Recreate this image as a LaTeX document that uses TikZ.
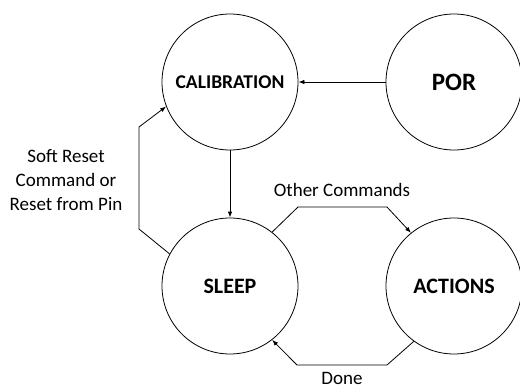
\documentclass[tikz,border=0pt]{standalone}
\usepackage{fontspec}
\setmainfont{Carlito}
\usetikzlibrary{arrows.meta}

\begin{document}
\begin{tikzpicture}[x=1pt, y=-1pt,
  state/.style = {shape=circle, draw, line width=0.8pt,
    minimum size=136pt, inner sep=0pt, font=\bfseries},
  arr/.style = {draw, line width=0.8pt, -{Latex[length=6pt,width=4.5pt]}},
  txt/.style = {align=center, font=\fontsize{19}{24}\selectfont}]
  \useasboundingbox (0,0) rectangle (520,389);
  % states
  \node[state, font=\bfseries\fontsize{19.5}{23}\selectfont] (cal) at (230,82) {CALIBRATION};
  \node[state, font=\bfseries\fontsize{25}{30}\selectfont] (por) at (454,82) {POR};
  \node[state, font=\bfseries\fontsize{22}{26}\selectfont] (sleep) at (230,286) {SLEEP};
  \node[state, font=\bfseries\fontsize{22}{26}\selectfont] (actions) at (454,286) {ACTIONS};
  % transitions
  \draw[arr] (por) -- (cal);
  \draw[arr] (cal) -- (sleep);
  \draw[arr] (sleep.152) -- (139,229) -- (139,127) -- (cal.201);
  \draw[arr] (sleep.52) -- (298,207) -- (387,207) -- (actions.129);
  \draw[arr] (actions.234) -- (387,365) -- (297,365) -- (sleep.-52);
  % labels
  \node[txt] (reset) at (66,180) {Soft Reset\\Command or\\Reset from Pin};
  \node[txt] (other) at (342,190) {Other Commands};
  \node[txt] (done) at (342,378) {Done};
\end{tikzpicture}
\end{document}
